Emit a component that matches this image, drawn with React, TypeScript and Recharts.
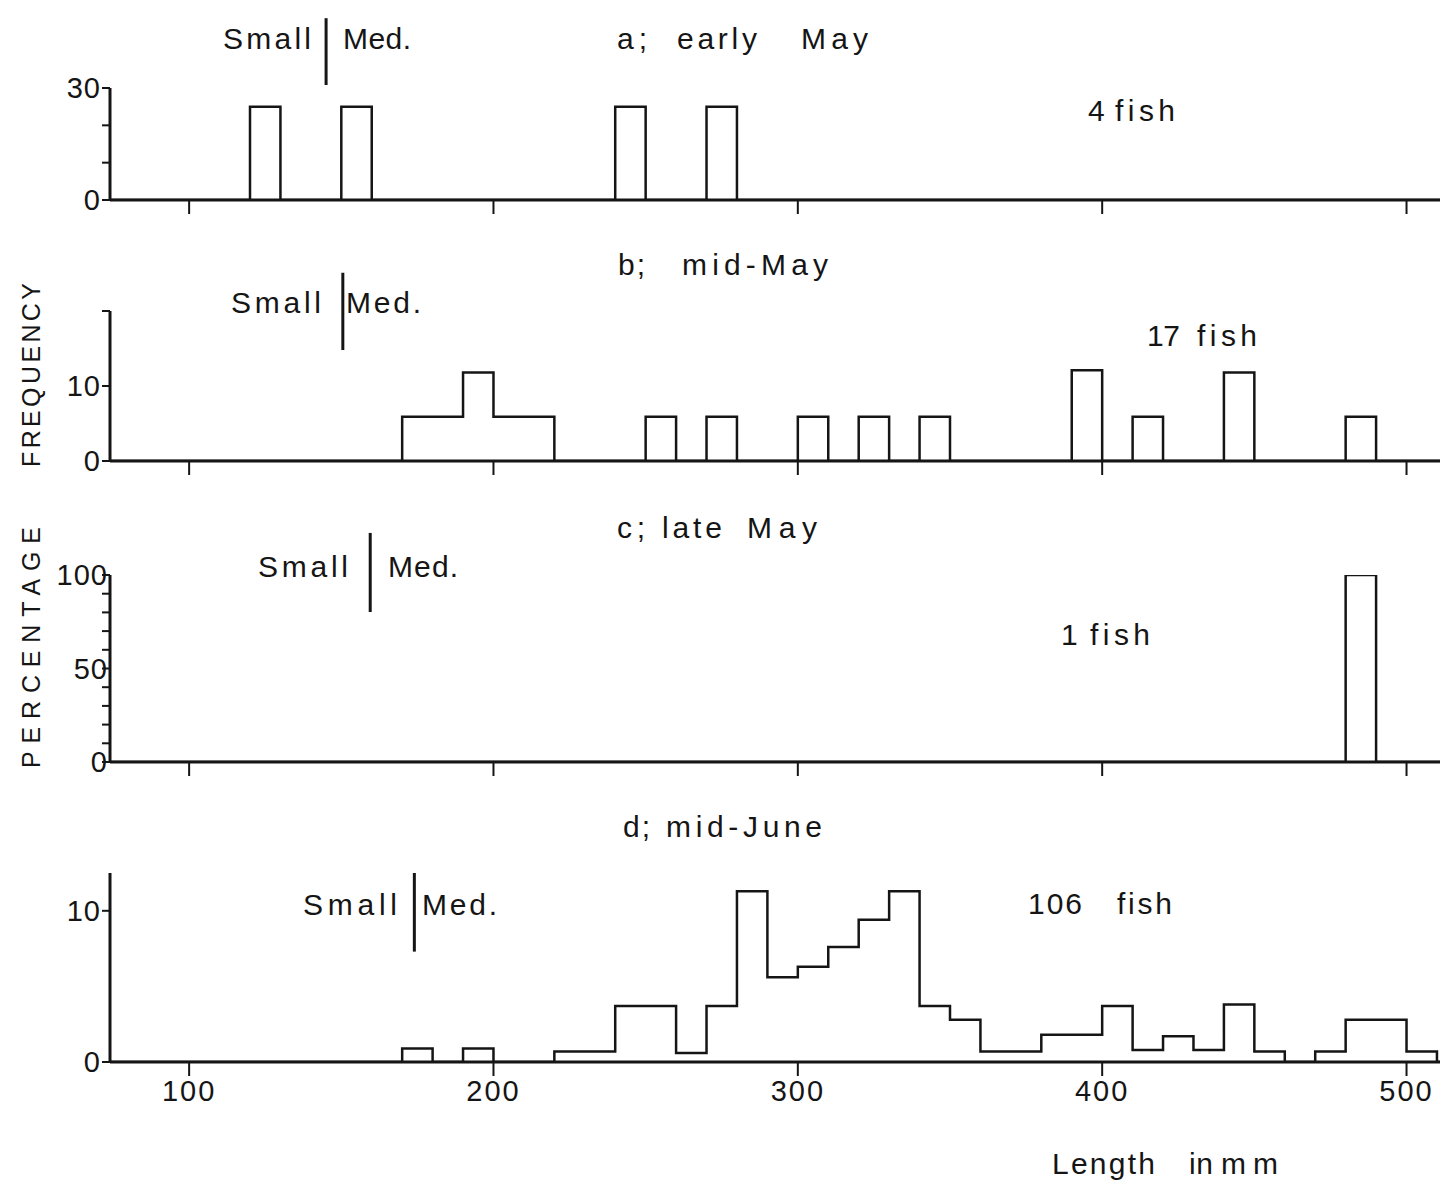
import { LineChart, Line, XAxis, YAxis, ReferenceLine } from "recharts";

// bin width in mm, every histogram bin starts at its listed length
const BIN = 10;
const lengthTicks = [100, 200, 300, 400, 500];

// a; early May (4 fish)
const earlyMayBins = [120, 150, 240, 270];
const earlyMayPct = [25, 25, 25, 25];

// b; mid-May (17 fish)
const midMayBins = [170, 180, 190, 200, 210, 250, 270, 300, 320, 340, 390, 410, 440, 480];
const midMayPct = [5.9, 5.9, 11.8, 5.9, 5.9, 5.9, 5.9, 5.9, 5.9, 5.9, 12.1, 5.9, 11.8, 5.9];

// c; late May (1 fish)
const lateMayBins = [480];
const lateMayPct = [100];

// d; mid-June (106 fish)
const midJuneBins = [
  170, 190, 220, 230, 240, 250, 260, 270, 280, 290, 300, 310, 320, 330, 340,
  350, 360, 370, 380, 390, 400, 410, 420, 430, 440, 450, 470, 480, 490, 500,
];
const midJunePct = [
  0.9, 0.9, 0.7, 0.7, 3.7, 3.7, 0.6, 3.7, 11.3, 5.6, 6.3, 7.6, 9.4, 11.3, 3.7,
  2.8, 0.7, 0.7, 1.8, 1.8, 3.7, 0.8, 1.7, 0.8, 3.8, 0.7, 0.7, 2.8, 2.8, 0.7,
];

// Small / Med. boundary (mm) per sample
const boundaryLen = [145, 150.5, 159.5, 174];

const titles = ["a; early May", "b; mid-May", "c; late May", "d; mid-June"];
const fishCounts = ["4 fish", "17 fish", "1 fish", "106 fish"];

const X_MIN = 74;
const X_MAX = 511;

function toSteps(bins: number[], pct: number[]) {
  const pts: { len: number; pct: number }[] = [{ len: X_MIN, pct: 0 }];
  bins.forEach((b, i) => {
    pts.push({ len: b, pct: pct[i] });
    if (bins[i + 1] !== b + BIN) pts.push({ len: b + BIN, pct: 0 });
  });
  pts.push({ len: X_MAX, pct: 0 });
  return pts;
}

const INK = "#151515";
const FONT = "'Liberation Sans', Arial, sans-serif";

type PanelProps = {
  top: number;
  bottom: number;
  data: { len: number; pct: number }[];
  yMax: number;
  yTicks: number[];
  yLabels: number[];
  boundary: number;
  divLo: number;
  divHi: number;
  showLengths?: boolean;
  yTickMargin?: number;
};

function Panel(p: PanelProps) {
  const mTop = 80;
  const xH = 50;
  return (
    <div style={{ position: "absolute", left: 0, top: p.top - mTop }}>
      <LineChart
        width={1449}
        height={p.bottom - p.top + mTop + xH}
        data={p.data}
        margin={{ top: mTop, right: 9, bottom: 0, left: 0 }}
      >
        <XAxis
          type="number"
          dataKey="len"
          domain={[X_MIN, X_MAX]}
          ticks={lengthTicks}
          interval={0}
          allowDataOverflow
          height={xH}
          tickSize={14}
          tickMargin={4}
          axisLine={{ stroke: INK, strokeWidth: 3 }}
          tickLine={{ stroke: INK, strokeWidth: 2 }}
          tick={{ fontSize: 29, fill: INK, fontFamily: FONT, letterSpacing: 2 }}
          tickFormatter={(v: number) => (p.showLengths ? String(v) : "")}
        />
        <YAxis
          type="number"
          domain={[0, p.yMax]}
          ticks={p.yTicks}
          interval={0}
          allowDataOverflow
          width={110}
          tickSize={8}
          tickMargin={p.yTickMargin ?? 1}
          axisLine={{ stroke: INK, strokeWidth: 3 }}
          tickLine={{ stroke: INK, strokeWidth: 2 }}
          tick={{ fontSize: 29, fill: INK, fontFamily: FONT, letterSpacing: 1 }}
          tickFormatter={(v: number) => (p.yLabels.includes(v) ? String(v) : "")}
        />
        <ReferenceLine
          segment={[
            { x: p.boundary, y: p.divLo },
            { x: p.boundary, y: p.divHi },
          ]}
          ifOverflow="visible"
          stroke={INK}
          strokeWidth={3}
        />
        <Line
          type="stepAfter"
          dataKey="pct"
          stroke={INK}
          strokeWidth={2.5}
          dot={false}
          isAnimationActive={false}
        />
      </LineChart>
    </div>
  );
}

function Word({ t, x, w, y, size = 30 }: { t: string; x: number; w: number; y: number; size?: number }) {
  return (
    <text x={x} y={y} textLength={w} lengthAdjust="spacing" fontSize={size} fill={INK} fontFamily={FONT}>
      {t}
    </text>
  );
}

export default function App() {
  const [ta, tb, tc, td] = titles.map((s) => s.split(" "));
  const [fa, fb, fc, fd] = fishCounts.map((s) => s.split(" "));
  return (
    <div style={{ position: "relative", width: 1449, height: 1184, background: "#fff", fontFamily: FONT }}>
      <style>{"body{margin:0}"}</style>
      <Panel top={88} bottom={200} data={toSteps(earlyMayBins, earlyMayPct)} yMax={30}
        yTicks={[0, 10, 20, 30]} yLabels={[0, 30]} boundary={boundaryLen[0]} divLo={30.8} divHi={48.7} />
      <Panel top={311} bottom={461} data={toSteps(midMayBins, midMayPct)} yMax={20}
        yTicks={[0, 10, 20]} yLabels={[0, 10]} boundary={boundaryLen[1]} divLo={14.8} divHi={25.1} />
      <Panel top={575} bottom={762} data={toSteps(lateMayBins, lateMayPct)} yMax={100}
        yTicks={[0, 10, 20, 30, 40, 50, 60, 70, 80, 90, 100]} yLabels={[0, 50, 100]}
        boundary={boundaryLen[2]} divLo={80.2} divHi={122.5} yTickMargin={-6} />
      <Panel top={873} bottom={1062} data={toSteps(midJuneBins, midJunePct)} yMax={12.5}
        yTicks={[0, 10]} yLabels={[0, 10]} boundary={boundaryLen[3]} divLo={7.3} divHi={12.5} showLengths />

      <svg width={1449} height={1184} style={{ position: "absolute", left: 0, top: 0, pointerEvents: "none" }}>
        {/* titles */}
        <Word t={ta[0]} x={617} w={30} y={49} />
        <Word t={ta[1]} x={677} w={80} y={49} />
        <Word t={ta[2]} x={801} w={67} y={49} />
        <Word t={tb[0]} x={618} w={27} y={275} />
        <Word t={tb[1]} x={682} w={146} y={275} />
        <Word t={tc[0]} x={617} w={28} y={538} />
        <Word t={tc[1]} x={662} w={60} y={538} />
        <Word t={tc[2]} x={747} w={70} y={538} />
        <Word t={td[0]} x={623} w={27} y={837} />
        <Word t={td[1]} x={666} w={156} y={837} />

        {/* Small | Med. */}
        <Word t="Small" x={223} w={88} y={49} />
        <Word t="Med." x={343} w={68} y={49} />
        <Word t="Small" x={231} w={90} y={313} />
        <Word t="Med." x={346} w={75} y={313} />
        <Word t="Small" x={258} w={90} y={577} />
        <Word t="Med." x={388} w={70} y={577} />
        <Word t="Small" x={303} w={94} y={915} />
        <Word t="Med." x={422} w={75} y={915} />

        {/* sample sizes */}
        <Word t={fa[0]} x={1088} w={15} y={121} />
        <Word t={fa[1]} x={1115} w={60} y={121} />
        <Word t={fb[0]} x={1147} w={33} y={346} />
        <Word t={fb[1]} x={1197} w={60} y={346} />
        <Word t={fc[0]} x={1061} w={12} y={645} />
        <Word t={fc[1]} x={1090} w={60} y={645} />
        <Word t={fd[0]} x={1028} w={54} y={914} />
        <Word t={fd[1]} x={1117} w={55} y={914} />

        {/* axis titles */}
        <Word t="Length" x={1052} w={103} y={1174} />
        <Word t="in" x={1189} w={24} y={1174} />
        <Word t="mm" x={1221} w={57} y={1174} />
        <g transform="rotate(-90 40 768)">
          <Word t="PERCENTAGE" x={40} w={241} y={768} size={25} />
          <Word t="FREQUENCY" x={341} w={184} y={768} size={25} />
        </g>
      </svg>
    </div>
  );
}
